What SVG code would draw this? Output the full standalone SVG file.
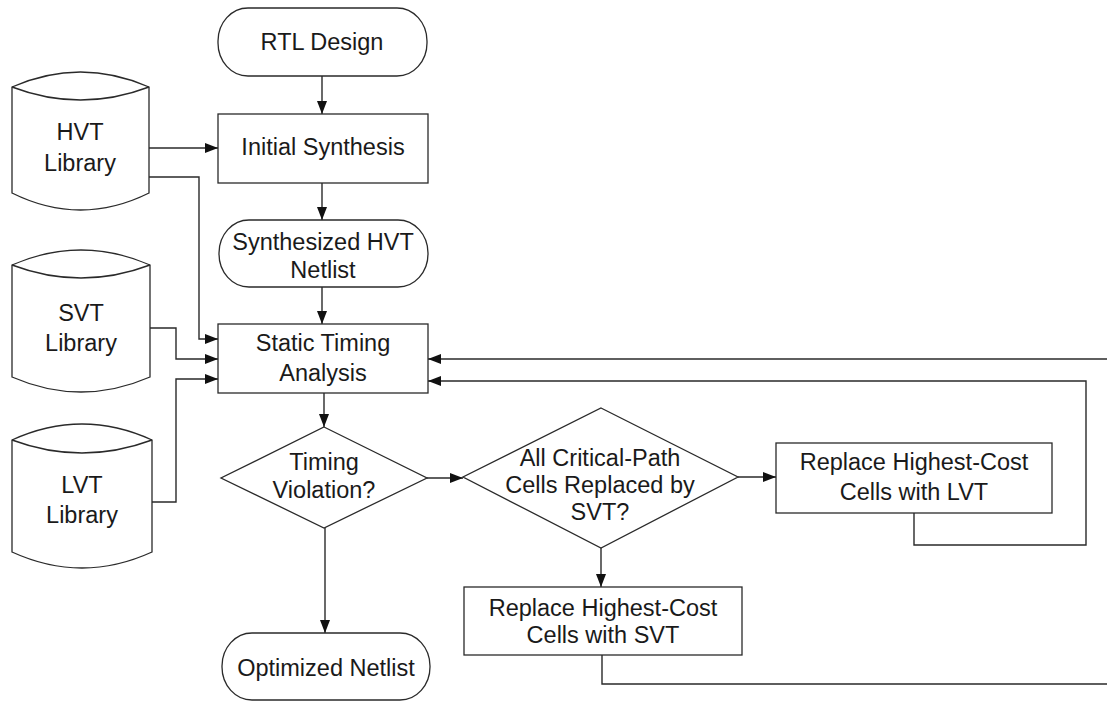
<svg xmlns="http://www.w3.org/2000/svg" width="1107" height="704" viewBox="0 0 1107 704">
  <style>
    .shape { fill: #ffffff; stroke: #2a2a2a; stroke-width: 1.3; }
    .wire { fill: none; stroke: #2a2a2a; stroke-width: 1.4; }
    .label { font-family: "Liberation Sans", Arial, sans-serif; font-size: 23.5px; fill: #1a1a1a; text-anchor: middle; }
  </style>
  <defs>
    <marker id="arrow" viewBox="0 0 13 10" refX="13" refY="5" markerWidth="13" markerHeight="10" markerUnits="userSpaceOnUse" orient="auto">
      <path d="M0,0 L13,5 L0,10 Z" fill="#111111"/>
    </marker>
  </defs>
  <rect width="1107" height="704" fill="#ffffff"/>

  <!-- connectors -->
  <g id="connectors">
    <path class="wire" d="M322,76 L322,114" marker-end="url(#arrow)"/>
    <path class="wire" d="M322,183 L322,220" marker-end="url(#arrow)"/>
    <path class="wire" d="M322,287 L322,324" marker-end="url(#arrow)"/>
    <path class="wire" d="M149,148 L218,148" marker-end="url(#arrow)"/>
    <path class="wire" d="M149,177 L199,177 L199,339 L218,339" marker-end="url(#arrow)"/>
    <path class="wire" d="M150,328 L176,328 L176,359 L218,359" marker-end="url(#arrow)"/>
    <path class="wire" d="M152,502 L176,502 L176,379 L218,379" marker-end="url(#arrow)"/>
    <path class="wire" d="M324,393 L324,427" marker-end="url(#arrow)"/>
    <path class="wire" d="M427,478 L463,478" marker-end="url(#arrow)"/>
    <path class="wire" d="M325,528 L325,633" marker-end="url(#arrow)"/>
    <path class="wire" d="M738,477 L776,477" marker-end="url(#arrow)"/>
    <path class="wire" d="M601,548 L601,587" marker-end="url(#arrow)"/>
    <path class="wire" d="M914,513 L914,545 L1086,545 L1086,381 L428,381" marker-end="url(#arrow)"/>
    <path class="wire" d="M602,655 L602,684 L1107,684"/>
    <path class="wire" d="M1107,359 L428,359" marker-end="url(#arrow)"/>
  </g>

  <g id="rtl-design">
    <rect class="shape" x="218" y="8" width="209" height="68" rx="30" ry="33"/>
    <text class="label" x="322" y="50">RTL Design</text>
  </g>

  <g id="initial-synthesis">
    <rect class="shape" x="218" y="114" width="210" height="69"/>
    <text class="label" x="323" y="155">Initial Synthesis</text>
  </g>

  <g id="synthesized-netlist">
    <rect class="shape" x="219" y="220" width="209" height="67" rx="30" ry="33"/>
    <text class="label" x="323" y="250">Synthesized HVT</text>
    <text class="label" x="323" y="278">Netlist</text>
  </g>

  <g id="hvt-library">
    <path class="shape" d="M12,87 Q80.5,57 149,87 L149,193 Q80.5,227 12,193 Z"/>
    <path class="wire" d="M12,87 Q80.5,113 149,87"/>
    <text class="label" x="80" y="140">HVT</text>
    <text class="label" x="80" y="171">Library</text>
  </g>

  <g id="svt-library">
    <path class="shape" d="M12,265 Q81,235 150,265 L150,377 Q81,407 12,377 Z"/>
    <path class="wire" d="M12,265 Q81,291 150,265"/>
    <text class="label" x="81" y="321">SVT</text>
    <text class="label" x="81" y="351">Library</text>
  </g>

  <g id="lvt-library">
    <path class="shape" d="M12,440 Q82,408 152,440 L152,552 Q82,584 12,552 Z"/>
    <path class="wire" d="M12,440 Q82,466 152,440"/>
    <text class="label" x="82" y="493">LVT</text>
    <text class="label" x="82" y="523">Library</text>
  </g>

  <g id="static-timing-analysis">
    <rect class="shape" x="218" y="324" width="210" height="69"/>
    <text class="label" x="323" y="351">Static Timing</text>
    <text class="label" x="323" y="381">Analysis</text>
  </g>

  <g id="timing-violation">
    <path class="shape" d="M324,427 L427,478 L324,528 L221,478 Z"/>
    <text class="label" x="324" y="470">Timing</text>
    <text class="label" x="324" y="498">Violation?</text>
  </g>

  <g id="critical-path-check">
    <path class="shape" d="M601,408 L738,477 L601,548 L463,477 Z"/>
    <text class="label" x="600" y="466">All Critical-Path</text>
    <text class="label" x="600" y="493">Cells Replaced by</text>
    <text class="label" x="600" y="520">SVT?</text>
  </g>

  <g id="replace-lvt">
    <rect class="shape" x="776" y="443" width="276" height="70"/>
    <text class="label" x="914" y="470">Replace Highest-Cost</text>
    <text class="label" x="914" y="500">Cells with LVT</text>
  </g>

  <g id="replace-svt">
    <rect class="shape" x="464" y="587" width="278" height="68"/>
    <text class="label" x="603" y="616">Replace Highest-Cost</text>
    <text class="label" x="603" y="643">Cells with SVT</text>
  </g>

  <g id="optimized-netlist">
    <rect class="shape" x="222" y="633" width="208" height="67" rx="30" ry="33"/>
    <text class="label" x="326" y="676">Optimized Netlist</text>
  </g>
</svg>
